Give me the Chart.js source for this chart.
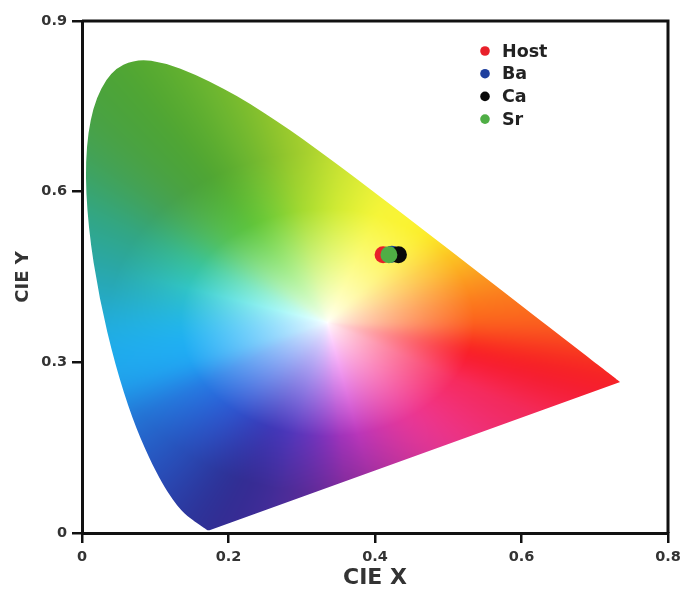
<!DOCTYPE html>
<html>
<head>
<meta charset="utf-8">
<script src="https://cdn.jsdelivr.net/npm/chart.js@4.4.0/dist/chart.umd.min.js"></script>
<style>
html, body { margin: 0; padding: 0; background: #fff; }
#wrap { width: 687px; height: 593px; }
</style>
</head>
<body>
<div id="wrap"><canvas id="cie"></canvas></div>
<script>
// samples and their colour coordinates
const samples = ['Host', 'Ba', 'Ca', 'Sr'];
const cieX = [0.411, 0.423, 0.432, 0.419];
const cieY = [0.489, 0.490, 0.489, 0.489];
const sampleColors = ['#e8202a', '#1f3f9e', '#0a0a0a', '#4fae45'];

const xTicks = [0, 0.2, 0.4, 0.6, 0.8];
const yTicks = [0, 0.3, 0.6, 0.9];

// CIE 1931 spectral locus, 380-700 nm every 5 nm
const locusX = [0.1741, 0.1740, 0.1738, 0.1736, 0.1733, 0.1730, 0.1726, 0.1721, 0.1714, 0.1703,
  0.1689, 0.1669, 0.1644, 0.1611, 0.1566, 0.1510, 0.1440, 0.1355, 0.1241, 0.1096,
  0.0913, 0.0687, 0.0454, 0.0235, 0.0082, 0.0039, 0.0139, 0.0389, 0.0743, 0.1142,
  0.1547, 0.1929, 0.2296, 0.2658, 0.3016, 0.3373, 0.3731, 0.4087, 0.4441, 0.4788,
  0.5125, 0.5448, 0.5752, 0.6029, 0.6270, 0.6482, 0.6658, 0.6801, 0.6915, 0.7006,
  0.7079, 0.7140, 0.7190, 0.7230, 0.7260, 0.7283, 0.7300, 0.7311, 0.7320, 0.7327,
  0.7334, 0.7340, 0.7344, 0.7346, 0.7347];
const locusY = [0.0050, 0.0050, 0.0049, 0.0049, 0.0048, 0.0048, 0.0048, 0.0048, 0.0051, 0.0058,
  0.0069, 0.0086, 0.0109, 0.0138, 0.0177, 0.0227, 0.0297, 0.0399, 0.0578, 0.0868,
  0.1327, 0.2007, 0.2950, 0.4127, 0.5384, 0.6548, 0.7502, 0.8120, 0.8338, 0.8262,
  0.8059, 0.7816, 0.7543, 0.7243, 0.6923, 0.6589, 0.6245, 0.5896, 0.5547, 0.5202,
  0.4866, 0.4544, 0.4242, 0.3965, 0.3725, 0.3514, 0.3340, 0.3197, 0.3083, 0.2993,
  0.2920, 0.2859, 0.2809, 0.2770, 0.2740, 0.2717, 0.2700, 0.2689, 0.2680, 0.2673,
  0.2666, 0.2660, 0.2654, 0.2654, 0.2653];

// colouring of the horseshoe: hue by angle round the white point
const whiteX = 0.335, whiteY = 0.37;
const hueStops = [
  [0, 250, 95, 30], [15, 250, 135, 30], [35, 250, 195, 35], [50, 250, 235, 45],
  [70, 240, 240, 55], [86, 200, 225, 50], [100, 150, 200, 45], [112, 105, 180, 48],
  [122, 80, 166, 52], [135, 70, 162, 78], [150, 50, 166, 132], [166, 40, 168, 178],
  [185, 32, 172, 228], [200, 32, 160, 235], [213, 36, 115, 212], [228, 40, 80, 186],
  [245, 48, 48, 150], [258, 72, 44, 152], [275, 130, 42, 152], [304, 220, 52, 142],
  [330, 242, 42, 92], [345, 246, 34, 40]
];

// smooth (catmull-rom) walk round the hue stops, wrapping at 360
function hueAt(deg) {
  const n = hueStops.length;
  let i = n - 1;
  for (let k = 0; k < n; k++) {
    const a = hueStops[k][0], b = k + 1 < n ? hueStops[k + 1][0] : 360;
    if (deg >= a && deg < b) { i = k; break; }
  }
  const a0 = hueStops[i][0], a1 = i + 1 < n ? hueStops[i + 1][0] : 360;
  const f = (deg - a0) / (a1 - a0);
  const p0 = hueStops[(i - 1 + n) % n], p1 = hueStops[i], p2 = hueStops[(i + 1) % n], p3 = hueStops[(i + 2) % n];
  const out = [];
  for (let c = 1; c <= 3; c++) {
    const v = 0.5 * ((2 * p1[c]) + (-p0[c] + p2[c]) * f +
      (2 * p0[c] - 5 * p1[c] + 4 * p2[c] - p3[c]) * f * f +
      (-p0[c] + 3 * p1[c] - 3 * p2[c] + p3[c]) * f * f * f);
    out.push(Math.max(0, Math.min(255, v)));
  }
  return out;
}

const gamutPlugin = {
  id: 'gamut',
  beforeDraw(chart) {
    const { ctx, chartArea: area, scales } = chart;
    const xs = scales.x, ys = scales.y;
    const w = Math.round(area.right - area.left), h = Math.round(area.bottom - area.top);
    const off = document.createElement('canvas');
    off.width = w; off.height = h;
    const octx = off.getContext('2d');
    const img = octx.createImageData(w, h);
    for (let py = 0; py < h; py++) {
      const yv = ys.getValueForPixel(area.top + py + 0.5);
      for (let px = 0; px < w; px++) {
        const xv = xs.getValueForPixel(area.left + px + 0.5);
        const dx = xv - whiteX, dy = yv - whiteY;
        let deg = Math.atan2(dy, dx) * 180 / Math.PI;
        if (deg < 0) deg += 360;
        const d = Math.hypot(dx, dy);
        const s = Math.pow(Math.min(1, d / 0.2), 0.75);
        const c = hueAt(deg);
        // brighter version of the hue near the centre, full hue further out
        const m = Math.max(c[0], c[1], c[2]);
        const k = Math.min(1, d / 0.3);
        const o = (py * w + px) * 4;
        for (let ch = 0; ch < 3; ch++) {
          const bright = c[ch] * 255 / m;
          const base = bright + (c[ch] - bright) * k;
          img.data[o + ch] = 255 + (base - 255) * s;
        }
        img.data[o + 3] = 255;
      }
    }
    octx.putImageData(img, 0, 0);

    // outline of the locus, smoothed through the midpoints, closed by the purple line
    const pts = locusX.map((v, i) => [xs.getPixelForValue(v), ys.getPixelForValue(locusY[i])]);
    ctx.save();
    ctx.beginPath();
    ctx.moveTo(pts[0][0], pts[0][1]);
    for (let i = 1; i < pts.length - 1; i++) {
      const mx = (pts[i][0] + pts[i + 1][0]) / 2, my = (pts[i][1] + pts[i + 1][1]) / 2;
      ctx.quadraticCurveTo(pts[i][0], pts[i][1], mx, my);
    }
    ctx.lineTo(pts[pts.length - 1][0], pts[pts.length - 1][1]);
    ctx.closePath();
    ctx.clip();
    ctx.drawImage(off, area.left, area.top);
    ctx.restore();
  }
};

// frame on top and right, plus the legend inside the plot
const framePlugin = {
  id: 'frame',
  afterDraw(chart) {
    const { ctx, chartArea: area } = chart;
    ctx.save();
    ctx.strokeStyle = '#111';
    ctx.lineWidth = 3;
    ctx.beginPath();
    ctx.moveTo(area.left, area.top);
    ctx.lineTo(area.right, area.top);
    ctx.lineTo(area.right, area.bottom);
    ctx.stroke();

    ctx.font = 'bold 17.5px "DejaVu Sans"';
    ctx.textBaseline = 'middle';
    ctx.textAlign = 'left';
    samples.forEach((name, i) => {
      const y = area.top + 30 + i * 22.7;
      ctx.fillStyle = sampleColors[i];
      ctx.beginPath();
      ctx.arc(area.right - 183, y, 4.8, 0, Math.PI * 2);
      ctx.fill();
      ctx.fillStyle = '#222';
      ctx.fillText(name, area.right - 166, y + 1);
    });
    ctx.restore();
  }
};

Chart.defaults.font.family = '"DejaVu Sans", sans-serif';

new Chart(document.getElementById('cie'), {
  type: 'scatter',
  data: {
    datasets: samples.map((name, i) => ({
      label: name,
      data: [{ x: cieX[i], y: cieY[i] }],
      backgroundColor: sampleColors[i],
      borderWidth: 0,
      pointRadius: 8.5,
      order: samples.length - 1 - i
    }))
  },
  options: {
    responsive: true,
    maintainAspectRatio: false,
    animation: false,
    devicePixelRatio: 1,
    layout: { padding: { top: 21, right: 19, left: 0, bottom: 0 } },
    plugins: { legend: { display: false }, tooltip: { enabled: false } },
    scales: {
      x: {
        type: 'linear', min: 0, max: 0.8,
        afterBuildTicks: s => { s.ticks = xTicks.map(v => ({ value: v })); },
        afterFit: s => { s.height = 60; },
        ticks: { callback: v => String(v), font: { size: 14.5, weight: 'bold' }, color: '#333', padding: 6 },
        grid: { drawOnChartArea: false, drawTicks: true, tickLength: 10, color: '#111', lineWidth: 2.5 },
        border: { display: true, color: '#111', width: 3 },
        title: { display: true, text: 'CIE X', font: { size: 22, weight: 'bold' }, color: '#333', padding: { top: 0, bottom: 2 } }
      },
      y: {
        type: 'linear', min: 0, max: 0.9,
        afterBuildTicks: s => { s.ticks = yTicks.map(v => ({ value: v })); },
        afterFit: s => { s.width = 82; },
        ticks: { callback: v => String(v), font: { size: 14.5, weight: 'bold' }, color: '#333', padding: 5 },
        grid: { drawOnChartArea: false, drawTicks: true, tickLength: 10, color: '#111', lineWidth: 2.5 },
        border: { display: true, color: '#111', width: 3 },
        title: { display: true, text: 'CIE Y', font: { size: 18, weight: 'bold' }, color: '#333', padding: { top: 13, bottom: 0 } }
      }
    }
  },
  plugins: [gamutPlugin, framePlugin]
});
</script>
</body>
</html>
